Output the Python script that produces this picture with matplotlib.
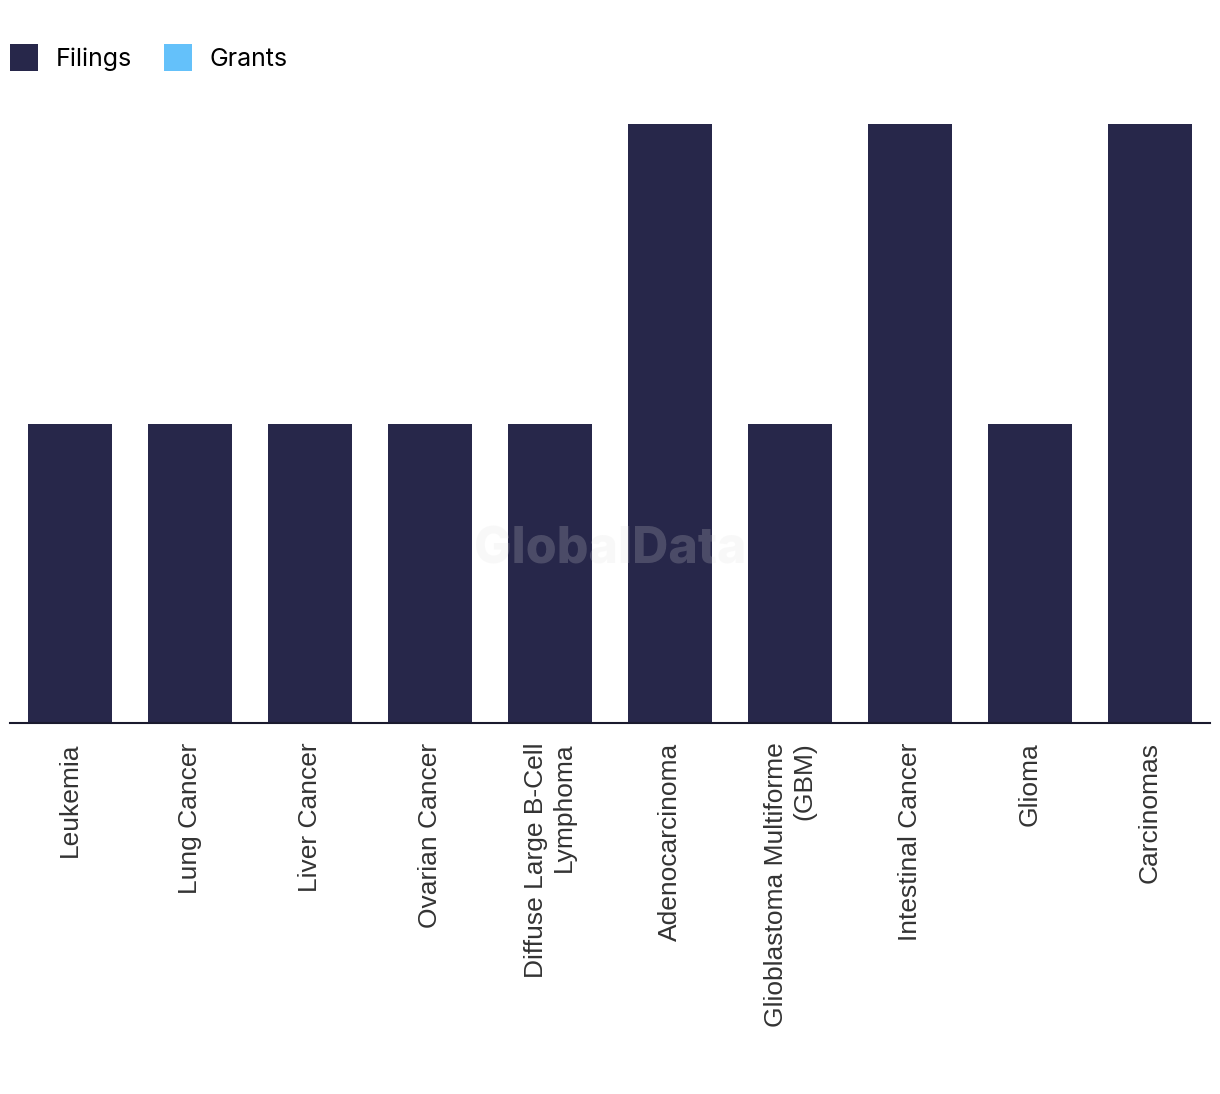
import matplotlib.pyplot as plt
import numpy as np
from matplotlib.patches import Patch

categories = ['Leukemia', 'Lung Cancer', 'Liver Cancer', 'Ovarian Cancer',
              'Diffuse Large B-Cell\nLymphoma', 'Adenocarcinoma',
              'Glioblastoma Multiforme\n(GBM)', 'Intestinal Cancer', 'Glioma',
              'Carcinomas']
filings = [1, 1, 1, 1, 1, 2, 1, 2, 1, 2]
grants = [0, 0, 0, 0, 0, 0, 0, 0, 0, 0]

navy = '#27274a'
sky = '#64c1fa'

fig = plt.figure(figsize=(12.2, 10.94), dpi=100)
ax = fig.add_axes([10 / 1220, 1 - 723 / 1094, 1200 / 1220, 599 / 1094])

x = np.arange(len(categories))
ax.bar(x, filings, width=0.7, color=navy)
ax.bar(x, grants, width=0.7, bottom=filings, color=sky)

ax.set_xlim(-0.5, len(categories) - 0.5)
ax.set_ylim(0, max(filings))
ax.set_xticks(x)
ax.set_xticklabels(categories, rotation=90, ha='center', va='top',
                   multialignment='right', fontsize=19, color='#333333',
                   family='Liberation Sans')
ax.tick_params(axis='x', length=0, pad=14)
ax.set_yticks([])
for side in ['top', 'right', 'left']:
    ax.spines[side].set_visible(False)
ax.spines['bottom'].set_color('#1a1a2e')
ax.spines['bottom'].set_linewidth(1.5)

# watermark
fig.text(610 / 1220, 1 - 550 / 1094, 'GlobalData', ha='center', va='center',
         fontsize=36, fontweight='heavy', color='#e0e0e0', alpha=0.2,
         family='Inter')

handles = [Patch(facecolor=navy, label='Filings'), Patch(facecolor=sky, label='Grants')]
fig.legend(handles=handles, loc='upper left', bbox_to_anchor=(10 / 1220, 1 - 44 / 1094),
           ncol=2, frameon=False, handlelength=1.12, handleheight=1.3,
           handletextpad=0.7, columnspacing=1.3, borderpad=0, borderaxespad=0,
           prop={'family': 'Inter', 'size': 18})

fig.savefig('out.png', dpi=100)
